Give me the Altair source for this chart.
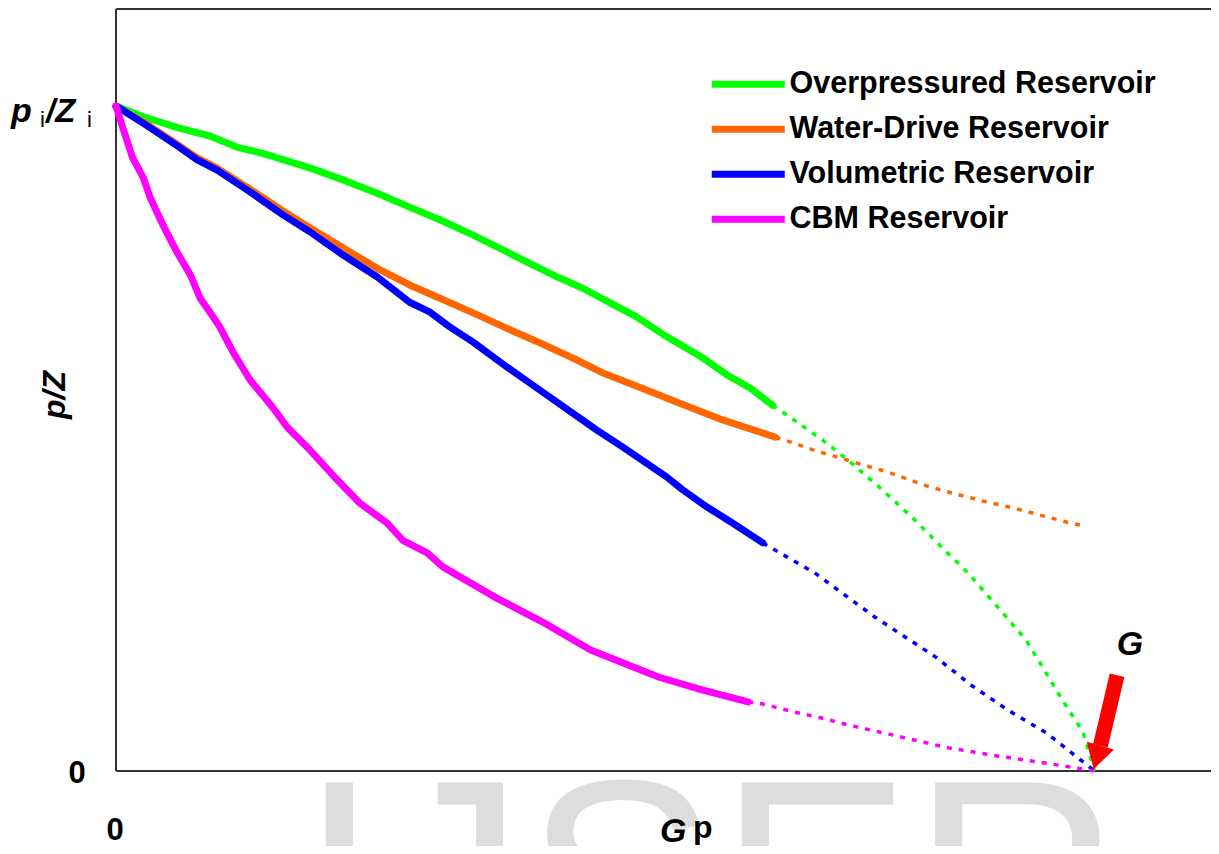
import altair as alt
import pandas as pd

FONT = "Liberation Sans"

# ---- series: Gp in % of G, p/Z in % of pi/Zi ----
series = ["Overpressured Reservoir", "Water-Drive Reservoir", "Volumetric Reservoir", "CBM Reservoir"]
colors = ["#00ff00", "#ff6600", "#0000ff", "#ff00ff"]

over_x = [0, 2.8, 6.2, 9.6, 12.4, 15.0, 17.8, 19.8, 23.2, 26.7, 30.0, 33.1, 36.5, 39.9, 43.3, 45.4, 47.7, 50.5, 53.2, 56.3, 60.0, 62.4, 64.8, 67.1]
over_y = [100, 98.4, 96.8, 95.5, 93.8, 92.9, 91.6, 90.7, 88.9, 86.9, 84.8, 82.9, 80.6, 78.1, 75.6, 74.1, 72.6, 70.4, 68.3, 65.3, 62.1, 59.6, 57.6, 55.0]
over_ext_x = [67.1, 68.3, 72.2, 74.7, 78.0, 81.4, 84.7, 87.0, 89.9, 93.0, 94.7, 96.7, 98.8, 100]
over_ext_y = [55.0, 53.8, 49.8, 46.9, 42.7, 38.1, 33.2, 29.9, 25.0, 19.7, 15.6, 10.7, 5.9, 0]

water_x = [0, 2.8, 6.2, 8.3, 10.3, 13.7, 17.1, 19.8, 23.2, 26.7, 30.0, 33.1, 36.5, 39.9, 43.3, 46.7, 49.7, 53.5, 57.6, 62.0, 67.4]
water_y = [100, 97.6, 94.3, 92.2, 90.7, 87.5, 84.2, 81.7, 78.7, 75.6, 73.1, 71.1, 68.9, 66.6, 64.4, 62.1, 59.9, 57.7, 55.3, 52.8, 50.2]
water_ext_x = [67.4, 68.9, 71.6, 73.1, 75.7, 78.8, 82.8, 85.7, 88.6, 91.6, 94.4, 97.5, 99.1]
water_ext_y = [50.2, 49.5, 48.1, 47.5, 46.3, 45.0, 42.9, 41.7, 40.6, 39.6, 38.5, 37.3, 36.8]

vol_x = [0, 2.8, 6.2, 8.3, 10.3, 13.7, 17.1, 19.8, 23.2, 26.7, 30.0, 32.1, 34.1, 36.5, 39.9, 43.3, 46.7, 49.1, 51.8, 54.2, 56.3, 57.9, 60.4, 63.0, 66.1]
vol_y = [100, 97.4, 94.1, 91.9, 90.4, 87.1, 83.6, 81.1, 77.6, 74.3, 70.5, 69.0, 66.8, 64.5, 60.8, 57.3, 53.8, 51.3, 48.7, 46.3, 44.2, 42.3, 39.7, 37.3, 34.3]
vol_ext_x = [66.1, 71.4, 77.5, 83.8, 87.4, 91.1, 95.1, 100]
vol_ext_y = [34.3, 29.8, 23.2, 17.1, 12.9, 9.2, 5.7, 0]

cbm_x = [0, 0.7, 1.7, 2.8, 3.5, 4.8, 6.2, 7.6, 8.6, 9.6, 10.6, 12.0, 13.7, 16.0, 17.5, 19.8, 22.6, 24.9, 27.7, 29.3, 31.8, 33.4, 36.9, 38.9, 43.6, 48.5, 55.5, 59.9, 64.6]
cbm_y = [100, 96.7, 92.2, 89.2, 86.2, 82.1, 78.1, 74.6, 71.1, 69.0, 66.8, 62.9, 58.8, 54.7, 51.7, 48.3, 43.8, 40.3, 37.3, 34.7, 32.8, 30.7, 27.7, 26.0, 22.4, 18.2, 14.1, 12.2, 10.4]
cbm_ext_x = [64.6, 66.0, 69.2, 72.0, 74.9, 79.4, 85.0, 89.5, 94.0, 96.7, 100]
cbm_ext_y = [10.4, 10.1, 8.9, 8.0, 6.9, 5.4, 3.5, 2.4, 1.4, 0.8, 0]

# red arrow pointing at G (shaft start/end and head centre, same units)
arrow_x = [102.3, 100.6]
arrow_y = [14.4, 3.8]
head_x = [100.25]
head_y = [2.05]

X_MAX = 111.9
Y_MAX = 114.6
W, H = 1095, 762

solid_parts = [(over_x, over_y), (water_x, water_y), (vol_x, vol_y), (cbm_x, cbm_y)]
ext_parts = [(over_ext_x, over_ext_y), (water_ext_x, water_ext_y), (vol_ext_x, vol_ext_y), (cbm_ext_x, cbm_ext_y)]

solid_rows, ext_rows = [], []
for name, col, (xs_, ys_), (ex, ey) in zip(series, colors, solid_parts, ext_parts):
    for i, (a, b) in enumerate(zip(xs_, ys_)):
        solid_rows.append({"series": name, "gp": a, "pz": b, "i": i})
    for i, (a, b) in enumerate(zip(ex, ey)):
        ext_rows.append({"series": name, "hex": col, "gp": a, "pz": b, "i": i})
solid_df = pd.DataFrame(solid_rows)
ext_df = pd.DataFrame(ext_rows)

xs = alt.Scale(domain=[0, X_MAX], nice=False, zero=False)
ys = alt.Scale(domain=[0, Y_MAX], nice=False, zero=False)

solid = alt.Chart(solid_df).mark_line(strokeWidth=7, strokeCap="round", strokeJoin="round").encode(
    x=alt.X("gp:Q", scale=xs, axis=None),
    y=alt.Y("pz:Q", scale=ys, axis=None),
    order="i:Q",
    color=alt.Color(
        "series:N",
        scale=alt.Scale(domain=series, range=colors),
        sort=series,
        legend=alt.Legend(
            title=None, orient="none", legendX=617, legendY=60, padding=0,
            symbolType="M-4,0H4", symbolSize=333, symbolStrokeWidth=7,
            labelFont=FONT, labelFontSize=30.5, labelFontWeight="bold", labelColor="black",
            labelOffset=26, rowPadding=14, labelLimit=0,
        ),
    ),
)

dotted = alt.Chart(ext_df).mark_line(strokeWidth=3.5, strokeDash=[5, 7]).encode(
    x=alt.X("gp:Q", scale=xs, axis=None),
    y=alt.Y("pz:Q", scale=ys, axis=None),
    order="i:Q",
    detail="series:N",
    color=alt.Color("hex:N", scale=None),
)

arrow_df = pd.DataFrame({"x": [arrow_x[0]], "y": [arrow_y[0]], "x2": [arrow_x[1]], "y2": [arrow_y[1]]})
shaft = alt.Chart(arrow_df).mark_rule(color="#ff0000", strokeWidth=15, strokeCap="butt").encode(
    x=alt.X("x:Q", scale=xs, axis=None), y=alt.Y("y:Q", scale=ys, axis=None), x2="x2:Q", y2="y2:Q"
)
head = alt.Chart(pd.DataFrame({"x": head_x, "y": head_y})).mark_point(
    shape="triangle-down", size=800, filled=True, color="#ff0000", opacity=1, angle=16
).encode(x=alt.X("x:Q", scale=xs, axis=None), y=alt.Y("y:Q", scale=ys, axis=None))

one = pd.DataFrame({"k": [0]})


def label(text, x, y, size, weight="bold", style="normal", align="left", baseline="alphabetic", angle=0, color="black"):
    return alt.Chart(pd.DataFrame({"t": [text]})).mark_text(
        align=align, baseline=baseline, fontSize=size, fontWeight=weight, fontStyle=style,
        font=FONT, color=color, angle=angle,
    ).encode(x=alt.value(x), y=alt.value(y), text="t:N")


watermark = label("IJSER", 183, 973, 290, weight="normal", color="#dddddd")

frame_top = alt.Chart(one).mark_rule(color="#333333", strokeWidth=2).encode(x=alt.value(0), x2=alt.value(W), y=alt.value(0))
frame_left = alt.Chart(one).mark_rule(color="#333333", strokeWidth=2).encode(x=alt.value(0), y=alt.value(0), y2=alt.value(H))
frame_bottom = alt.Chart(one).mark_rule(color="#333333", strokeWidth=2).encode(x=alt.value(0), x2=alt.value(W), y=alt.value(H))

texts = [
    label("p", -105, 113, 34, style="italic"),
    label("i", -76, 118, 22, weight="normal"),
    label("/Z", -70, 113, 33, style="italic"),
    label("i", -29, 118, 22, weight="normal"),
    label("p/Z", -61, 386, 32, style="italic", align="center", baseline="middle", angle=270),
    label("0", -39, 774, 31, align="center"),
    label("0", -1, 831, 31, align="center"),
    label("G", 1014, 646, 34, style="italic", align="center"),
    label("G", 544, 833, 34, style="italic"),
    label("p", 577, 829, 32, weight="bold"),
]

chart = alt.layer(
    watermark, frame_top, frame_left, frame_bottom, solid, dotted, shaft, head, *texts
).properties(
    width=W, height=H,
    padding={"left": 108, "top": 1, "right": 0, "bottom": 75},
    autosize=alt.AutoSizeParams(type="none"),
).configure_view(stroke=None)

chart.save("out.html", embed_options={"renderer": "svg", "actions": False})
